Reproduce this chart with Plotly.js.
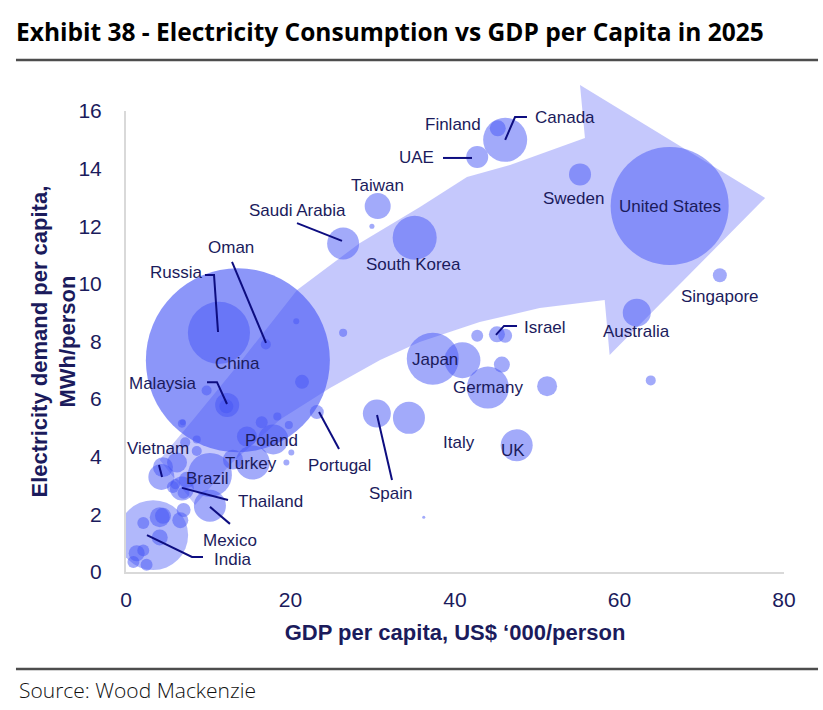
<!DOCTYPE html>
<html>
<head>
<meta charset="utf-8">
<script src="https://cdn.plot.ly/plotly-3.0.1.min.js"></script>
<style>
html,body{margin:0;padding:0;background:#fff;}
#chart{width:823px;height:710px;}
</style>
</head>
<body>
<div id="chart"></div>
<script>
// ---- Data ----
const countries = ["United States","China","India","Russia","Japan","Other","Germany","South Korea","Canada","Finland",
  "UAE","Taiwan","Saudi Arabia","Sweden","Singapore","Australia","Israel","Other","Other","Other",
  "Other","UK","Italy","Spain","Portugal","Other","Other","Other","Other","Other",
  "Other","Other","Other","Other","Oman","Malaysia","Other","Other","Other","Other",
  "Other","Poland","Turkey","Brazil","Thailand","Mexico","Vietnam","Other","Other","Other",
  "Other","Other","Other","Other","Other","Other","Other","Other","Other","Other",
  "Other","Other","Other","Other","Other","Other","Other","Other","Other"];
// GDP per capita, US$ '000/person
const gdpPerCapita = [66.1,13.6,3.3,11.3,37.3,40.9,44.0,35.1,46.1,45.2,
  42.7,30.6,26.4,55.2,72.2,62.1,45.1,46.1,42.7,45.7,
  51.2,47.5,34.4,30.5,23.2,20.7,26.4,21.4,19.8,20.1,
  19.5,36.2,63.8,29.9,17.0,12.3,12.2,9.8,6.9,18.4,
  16.5,17.9,15.4,10.2,6.8,10.2,4.3,4.5,6.2,7.4,
  5.7,7.0,7.2,8.6,8.6,6.8,14.7,13.0,4.1,2.1,
  6.6,7.0,4.1,1.3,2.1,0.9,2.5,4.5,6.0];
// Electricity demand per capita, MWh/person
const demandPerCapita = [12.7,7.35,1.28,8.3,7.4,7.35,6.4,11.6,15.0,15.4,
  14.4,12.7,11.4,13.8,10.3,9.0,8.25,8.2,8.2,7.2,
  6.45,4.4,5.35,5.5,5.55,8.7,8.3,6.6,5.1,4.15,
  3.8,1.9,6.65,12.0,7.9,5.8,5.75,6.3,5.2,5.4,
  5.2,4.6,3.8,3.37,2.9,2.3,3.3,3.64,3.8,3.2,
  2.95,2.75,4.5,4.6,4.2,5.15,4.7,3.9,1.9,1.7,
  1.8,2.15,1.2,0.65,0.75,0.35,0.25,1.95,3.05];
// Total electricity demand, TWh (bubble area)
const totalDemand = [4300,10450,1510,1190,835,400,545,598,598,79,
  149,209,316,149,60,242,79,60,44,79,
  123,316,316,242,60,11,20,60,20,11,
  11,3,31,8,31,178,60,31,11,20,
  44,278,357,598,178,316,209,123,123,79,
  44,44,31,20,31,20,123,123,123,44,
  79,60,79,79,44,44,44,79,31];

const xTicks = [0,20,40,60,80];
const yTicks = [0,2,4,6,8,10,12,14,16];

// ---- Decoration: trend arrow outline in data units (GDP, MWh) ----
const arrowOutline = [
  [4.1,3.9],[8.15,5.28],[13.9,7.29],[20.8,9.79],[28.45,11.42],[35.74,12.67],[41.46,13.71],[46.7,14.13],[55.8,15.06],
  [55.2,16.9],[77.7,12.98],[58.8,7.53],[58.2,9.44],
  [50.3,9.16],[43.0,8.68],[35.7,7.98],[30.9,7.36],[24.8,6.39],[18.7,5.28],[12.6,3.71],[8.4,2.33]
];
const X_RANGE = [0,80], Y_RANGE = [0,16];
function px(v){return (v - X_RANGE[0])/(X_RANGE[1]-X_RANGE[0]);}
function py(v){return (v - Y_RANGE[0])/(Y_RANGE[1]-Y_RANGE[0]);}
const arrowPath = 'M ' + arrowOutline.map(p => px(p[0]).toFixed(4)+','+py(p[1]).toFixed(4)).join(' L ') + ' Z';

// ---- Labels (text centre in data units) ----
const labels = [
  ["Finland",39.8,15.52],["Canada",53.4,15.76],["UAE",35.3,14.37],["Taiwan",30.6,13.43],
  ["Saudi Arabia",20.9,12.56],["South Korea",35.0,10.66],["Sweden",54.35,12.95],["United States",66.1,12.7],
  ["Singapore",72.2,9.55],["Australia",62.1,8.33],["Israel",50.9,8.5],["Japan",37.6,7.36],
  ["Germany",44.0,6.42],["Italy",40.5,4.48],["UK",47.05,4.2],["Spain",32.2,2.74],
  ["Portugal",25.9,3.71],["Oman",12.8,11.25],["Russia",6.1,10.38],["China",13.6,7.22],
  ["Malaysia",4.5,6.53],["Poland",17.75,4.58],["Turkey",15.2,3.78],["Vietnam",3.9,4.27],
  ["Brazil",9.85,3.23],["Thailand",17.6,2.46],["Mexico",12.6,1.11],["India",12.9,0.45]
];
// Leader lines (polylines in data units)
const leaders = [
  [[46.1,15.0],[47.3,15.79],[48.75,15.79]],
  [[42.07,14.37],[38.54,14.37]],
  [[26.26,11.49],[20.79,12.11]],
  [[44.98,8.23],[45.96,8.54],[47.54,8.54]],
  [[30.52,5.45],[32.34,3.19]],
  [[23.47,5.55],[25.9,4.27]],
  [[17.02,7.95],[12.89,10.76]],
  [[11.19,8.33],[10.7,10.31],[9.6,10.31]],
  [[12.28,5.83],[11.06,6.59],[9.85,6.59]],
  [[4.38,3.3],[4.01,3.71]],
  [[6.81,2.92],[12.4,2.5]],
  [[10.21,2.26],[12.64,1.67]],
  [[2.55,1.28],[8.02,0.52],[9.36,0.52]]
];

const navy = '#1b1b5c';
const opac = countries.map(c => c === 'China' ? 0.62 : (c === 'India' ? 0.42 : 0.5));

const trace = {
  type:'scatter', mode:'markers',
  x: gdpPerCapita, y: demandPerCapita, text: countries,
  marker:{size: totalDemand, sizemode:'area', sizeref: 0.6173, color:'rgb(70,85,245)', opacity: opac, line:{width:0}},
  hoverinfo:'text+x+y', cliponaxis:true
};

const shapes = [
  {type:'path', xref:'paper', yref:'paper', path: arrowPath, fillcolor:'rgba(140,145,250,0.5)', line:{width:0}, layer:'below'},
  {type:'line', xref:'paper', yref:'paper', x0:-0.1672, x1:1.0517, y0:1.1106, y1:1.1106, line:{color:'#4d4d4d', width:2.5}},
  {type:'line', xref:'paper', yref:'paper', x0:-0.1672, x1:1.0517, y0:-0.2104, y1:-0.2104, line:{color:'#4d4d4d', width:2.5}}
];
leaders.forEach(l => {
  shapes.push({type:'path', xref:'x', yref:'y', path:'M ' + l.map(p => p[0]+','+p[1]).join(' L '),
    line:{color:'#0d0d80', width:2}, layer:'above'});
});

const annotations = labels.map(l => ({
  x:l[1], y:l[2], xref:'x', yref:'y', text:l[0], showarrow:false,
  font:{family:'Liberation Sans, Arial, sans-serif', size:17, color:navy}
}));
annotations.push({
  xref:'paper', yref:'paper', x:-0.1657, y:-0.256, xanchor:'left', yanchor:'middle',
  text:'Source: Wood Mackenzie', showarrow:false,
  font:{family:'Open Sans, Noto Sans, sans-serif', size:21, color:'#111', weight:300}
});
// y-axis title
annotations.push({
  xref:'paper', yref:'paper', x:(53-126)/658, y:0.5, xanchor:'center', yanchor:'middle', textangle:-90,
  text:'<b>Electricity demand per capita,<br>MWh/person</b>', showarrow:false,
  font:{family:'Liberation Sans, Arial, sans-serif', size:22, color:navy}
});

const layout = {
  width:823, height:710,
  margin:{l:126, r:39, t:111, b:138},
  paper_bgcolor:'#fff', plot_bgcolor:'rgba(0,0,0,0)',
  showlegend:false,
  title:{text:'Exhibit 38 - Electricity Consumption vs GDP per Capita in 2025', xref:'container', yref:'container',
    x:16/823, xanchor:'left', y:1-32/710, yanchor:'middle',
    font:{family:'Open Sans, Noto Sans, sans-serif', size:24.5, color:'#000', weight:700}},
  xaxis:{range:X_RANGE, tickvals:xTicks, ticktext:xTicks.map(String), showgrid:false, zeroline:false,
    showline:true, linecolor:'#d9d9d9', linewidth:2, ticks:'', ticklabelstandoff:8,
    tickfont:{family:'Liberation Sans, Arial, sans-serif', size:21, color:navy},
    title:{text:'<b>GDP per capita, US$ ‘000/person</b>', standoff:14,
      font:{family:'Liberation Sans, Arial, sans-serif', size:22, color:navy}}},
  yaxis:{range:Y_RANGE, tickvals:yTicks, ticktext:yTicks.map(String), showgrid:false, zeroline:false,
    showline:true, linecolor:'#d9d9d9', linewidth:2, ticks:'', ticklabelstandoff:18,
    tickfont:{family:'Liberation Sans, Arial, sans-serif', size:21, color:navy}},
  shapes: shapes,
  annotations: annotations
};

Plotly.newPlot('chart', [trace], layout, {displayModeBar:false, staticPlot:true});
</script>
</body>
</html>
